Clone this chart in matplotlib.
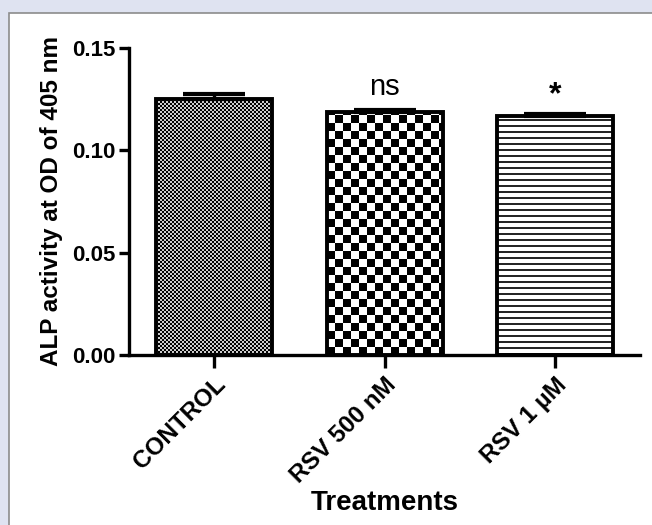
import numpy as np
import matplotlib.pyplot as plt
from matplotlib.patches import Rectangle

plt.rcParams['font.family'] = ['Liberation Sans', 'DejaVu Sans']

# data
treatments = ["CONTROL", "RSV 500 nM", "RSV 1 µM"]
alp_mean = [0.125, 0.1185, 0.1165]
alp_sem = [0.0025, 0.0012, 0.0010]
signif = ["", "ns", "*"]
yticks = [0.00, 0.05, 0.10, 0.15]


def texture(kind, h, w):
    # pixel patterns: 1 = white, 0 = black
    i, j = np.mgrid[0:h, 0:w]
    if kind == "fine":
        return ((i // 2 + j // 2) % 2) * 0.8
    if kind == "coarse":
        return ((i // 8 + j // 8) % 2).astype(float)
    # horizontal lines
    return np.where(i % 6 < 2, 0.15, 1.0)


fig = plt.figure(figsize=(6.52, 5.25), dpi=100, facecolor='#dfe3f1')
fig.patches.append(Rectangle((9 / 652, -0.1), 1.2, 1.1 - 13 / 525,
                             transform=fig.transFigure, facecolor='white',
                             edgecolor='#8c8c8c', linewidth=1.2, zorder=-5))

ax = fig.add_axes([0.198, 0.324, 0.784, 0.585])
ax.set_facecolor('white')

x = np.arange(len(treatments))
bars = ax.bar(x, alp_mean, width=0.68, facecolor='none', edgecolor='black',
              linewidth=2.8, zorder=3)
ax.errorbar(x, alp_mean, yerr=[np.zeros(len(x)), alp_sem], fmt='none',
            ecolor='black', elinewidth=2.4, capsize=22, capthick=3, zorder=4)

ax.set_xlim(-0.5, 2.5)
ax.set_ylim(0, 0.15)

fig.canvas.draw()
kinds = ["fine", "coarse", "lines"]
for bar, kind in zip(bars, kinds):
    bb = bar.get_window_extent()
    w_px, h_px = int(round(bb.width)), int(round(bb.height))
    img = texture(kind, h_px, w_px)
    x0 = bar.get_x()
    ax.imshow(img, cmap='gray', vmin=0, vmax=1, origin='lower',
              extent=(x0, x0 + bar.get_width(), 0, bar.get_height()),
              aspect='auto', interpolation='nearest', zorder=2,
              clip_path=bar)

ax.set_xlim(-0.5, 2.5)
ax.set_ylim(0, 0.15)

for i, s in enumerate(signif):
    if s == "ns":
        ax.text(x[i], alp_mean[i] + alp_sem[i] + 0.0045, s, ha='center',
                va='bottom', fontsize=21)
    elif s:
        ax.text(x[i], alp_mean[i] + alp_sem[i] + 0.002, s, ha='center',
                va='bottom', fontsize=23, fontweight='bold')

for side in ['top', 'right']:
    ax.spines[side].set_visible(False)
for side in ['left', 'bottom']:
    ax.spines[side].set_linewidth(2.4)

ax.set_yticks(yticks)
ax.set_yticklabels([f"{v:.2f}" for v in yticks])
ax.set_xticks(x)
ax.set_xticklabels(treatments, rotation=45, ha='right', rotation_mode='anchor')
ax.tick_params(axis='both', direction='out', width=2.4)
ax.tick_params(axis='y', length=7, labelsize=16, pad=3)
ax.tick_params(axis='x', length=9, labelsize=17.5, pad=4)
for lab in ax.get_xticklabels() + ax.get_yticklabels():
    lab.set_fontweight('bold')

ax.set_ylabel('ALP activity at OD of 405 nm', fontsize=17.5, fontweight='bold',
              labelpad=6)
ax.set_xlabel('Treatments', fontsize=20, fontweight='bold', labelpad=2)

fig.savefig('out.png', dpi=100, facecolor=fig.get_facecolor())
